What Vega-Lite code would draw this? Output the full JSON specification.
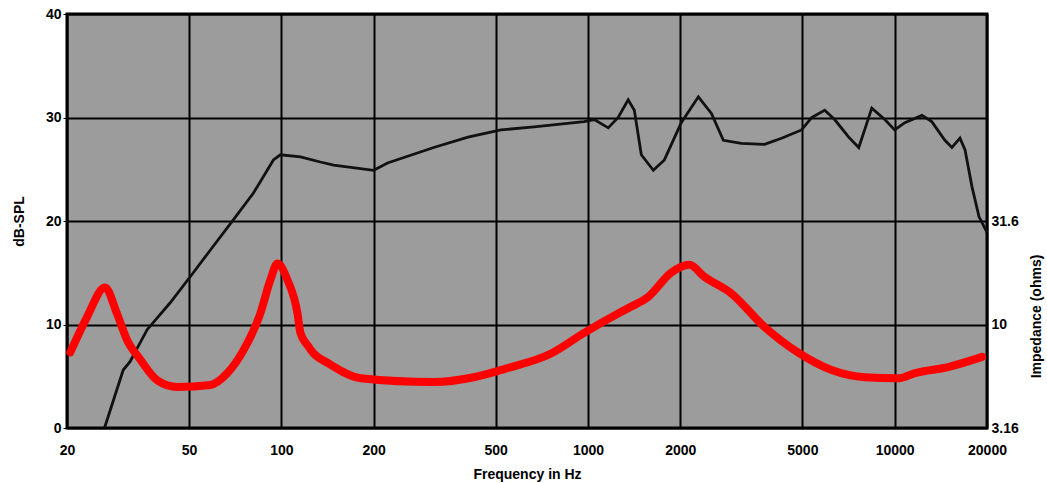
{
  "$schema": "https://vega.github.io/schema/vega-lite/v6.json",
  "width": 920,
  "height": 414,
  "autosize": "none",
  "padding": {"left": 67, "top": 14, "right": 60, "bottom": 55},
  "background": "white",
  "config": {
    "view": {"fill": "#9c9c9c", "stroke": "black", "strokeWidth": 3},
    "font": "Liberation Sans",
    "axis": {
      "labelFont": "Liberation Sans", "labelFontWeight": "bold", "labelFontSize": 14, "labelColor": "black",
      "titleFont": "Liberation Sans", "titleFontWeight": "bold", "titleFontSize": 14, "titleColor": "black",
      "domain": false, "tickColor": "black", "gridColor": "black", "gridWidth": 2, "gridOpacity": 1
    }
  },
  "datasets": {
    "spl": [
      {"freq": 26.5, "db": 0},
      {"freq": 30.5, "db": 5.6},
      {"freq": 32.1, "db": 6.4},
      {"freq": 36.5, "db": 9.5},
      {"freq": 43.4, "db": 12.1},
      {"freq": 51.6, "db": 15.0},
      {"freq": 58.7, "db": 17.2},
      {"freq": 69.7, "db": 20.1},
      {"freq": 81.1, "db": 22.7},
      {"freq": 94.2, "db": 25.9},
      {"freq": 99.3, "db": 26.4},
      {"freq": 115.4, "db": 26.2},
      {"freq": 134, "db": 25.7},
      {"freq": 148, "db": 25.4},
      {"freq": 200, "db": 24.9},
      {"freq": 222, "db": 25.6},
      {"freq": 314, "db": 27.1},
      {"freq": 406, "db": 28.1},
      {"freq": 520, "db": 28.8},
      {"freq": 667, "db": 29.1},
      {"freq": 971, "db": 29.6},
      {"freq": 1048, "db": 29.8},
      {"freq": 1164, "db": 29.0},
      {"freq": 1254, "db": 30.0},
      {"freq": 1352, "db": 31.7},
      {"freq": 1416, "db": 30.7},
      {"freq": 1492, "db": 26.4},
      {"freq": 1633, "db": 24.9},
      {"freq": 1774, "db": 25.9},
      {"freq": 2014, "db": 29.5},
      {"freq": 2290, "db": 32.0},
      {"freq": 2526, "db": 30.4},
      {"freq": 2763, "db": 27.8},
      {"freq": 3164, "db": 27.5},
      {"freq": 3764, "db": 27.4},
      {"freq": 4276, "db": 28.0},
      {"freq": 4970, "db": 28.8},
      {"freq": 5360, "db": 30.0},
      {"freq": 5912, "db": 30.7},
      {"freq": 6372, "db": 29.8},
      {"freq": 7080, "db": 28.1},
      {"freq": 7636, "db": 27.1},
      {"freq": 7980, "db": 28.8},
      {"freq": 8420, "db": 30.9},
      {"freq": 9286, "db": 29.8},
      {"freq": 10000, "db": 28.8},
      {"freq": 10790, "db": 29.5},
      {"freq": 12270, "db": 30.2},
      {"freq": 13210, "db": 29.6},
      {"freq": 14580, "db": 27.8},
      {"freq": 15370, "db": 27.1},
      {"freq": 16330, "db": 28.0},
      {"freq": 16950, "db": 26.9},
      {"freq": 17870, "db": 23.3},
      {"freq": 18840, "db": 20.4},
      {"freq": 20000, "db": 18.9}
    ],
    "imp": [
      {"freq": 20.5, "ohms": 7.33},
      {"freq": 23.2, "ohms": 10.8},
      {"freq": 26.6, "ohms": 15.1},
      {"freq": 29.1, "ohms": 11.3},
      {"freq": 31.4, "ohms": 8.41},
      {"freq": 34.7, "ohms": 6.76},
      {"freq": 39.4, "ohms": 5.37},
      {"freq": 45.8, "ohms": 4.99},
      {"freq": 58.7, "ohms": 5.10},
      {"freq": 66.7, "ohms": 5.82},
      {"freq": 75.2, "ohms": 7.49},
      {"freq": 85.4, "ohms": 11.3},
      {"freq": 92.1, "ohms": 16.4},
      {"freq": 97.1, "ohms": 19.7},
      {"freq": 104.7, "ohms": 16.4},
      {"freq": 112.9, "ohms": 11.3},
      {"freq": 115.4, "ohms": 9.11},
      {"freq": 121.7, "ohms": 7.94},
      {"freq": 127.4, "ohms": 7.24},
      {"freq": 141.4, "ohms": 6.53},
      {"freq": 181.4, "ohms": 5.50},
      {"freq": 314, "ohms": 5.27},
      {"freq": 424, "ohms": 5.56},
      {"freq": 548, "ohms": 6.16},
      {"freq": 758, "ohms": 7.24},
      {"freq": 971, "ohms": 9.11},
      {"freq": 1254, "ohms": 11.3},
      {"freq": 1384, "ohms": 12.2},
      {"freq": 1572, "ohms": 13.6},
      {"freq": 1870, "ohms": 17.8},
      {"freq": 2140, "ohms": 19.4},
      {"freq": 2396, "ohms": 17.0},
      {"freq": 2936, "ohms": 14.1},
      {"freq": 3764, "ohms": 9.72},
      {"freq": 4862, "ohms": 7.28},
      {"freq": 6228, "ohms": 6.02},
      {"freq": 7980, "ohms": 5.56},
      {"freq": 10310, "ohms": 5.50},
      {"freq": 11640, "ohms": 5.82},
      {"freq": 15030, "ohms": 6.24},
      {"freq": 19280, "ohms": 6.97}
    ]
  },
  "layer": [
    {
      "data": {"name": "spl"},
      "mark": {"type": "line", "color": "#111111", "strokeWidth": 2.8},
      "encoding": {
        "x": {
          "field": "freq", "type": "quantitative",
          "scale": {"type": "log", "domain": [20, 20000], "nice": false},
          "axis": {"values": [20, 50, 100, 200, 500, 1000, 2000, 5000, 10000, 20000], "format": "d",
                   "title": "Frequency in Hz", "grid": true, "ticks": false, "labelPadding": 15,
                   "titlePadding": 10, "labelFlush": false}
        },
        "y": {
          "field": "db", "type": "quantitative",
          "scale": {"domain": [0, 40], "nice": false},
          "axis": {"values": [0, 10, 20, 30, 40], "title": "dB-SPL", "grid": true, "tickSize": 4,
                   "labelPadding": 2, "titlePadding": 19}
        }
      }
    },
    {
      "data": {"name": "imp"},
      "mark": {"type": "line", "color": "#ff0000", "strokeWidth": 8, "strokeCap": "round", "strokeJoin": "round", "interpolate": "monotone"},
      "encoding": {
        "x": {"field": "freq", "type": "quantitative"},
        "y": {
          "field": "ohms", "type": "quantitative",
          "scale": {"type": "log", "domain": [3.16, 316], "nice": false},
          "axis": {"orient": "right", "values": [3.16, 10, 31.6], "labelExpr": "format(datum.value, '.3~')",
                   "title": "Impedance (ohms)", "titleAngle": 270, "titleX": 49, "titleY": 302,
                   "titleAlign": "center", "titleBaseline": "middle", "grid": false, "ticks": false,
                   "labelPadding": 4}
        }
      }
    }
  ],
  "resolve": {"scale": {"y": "independent"}}
}
